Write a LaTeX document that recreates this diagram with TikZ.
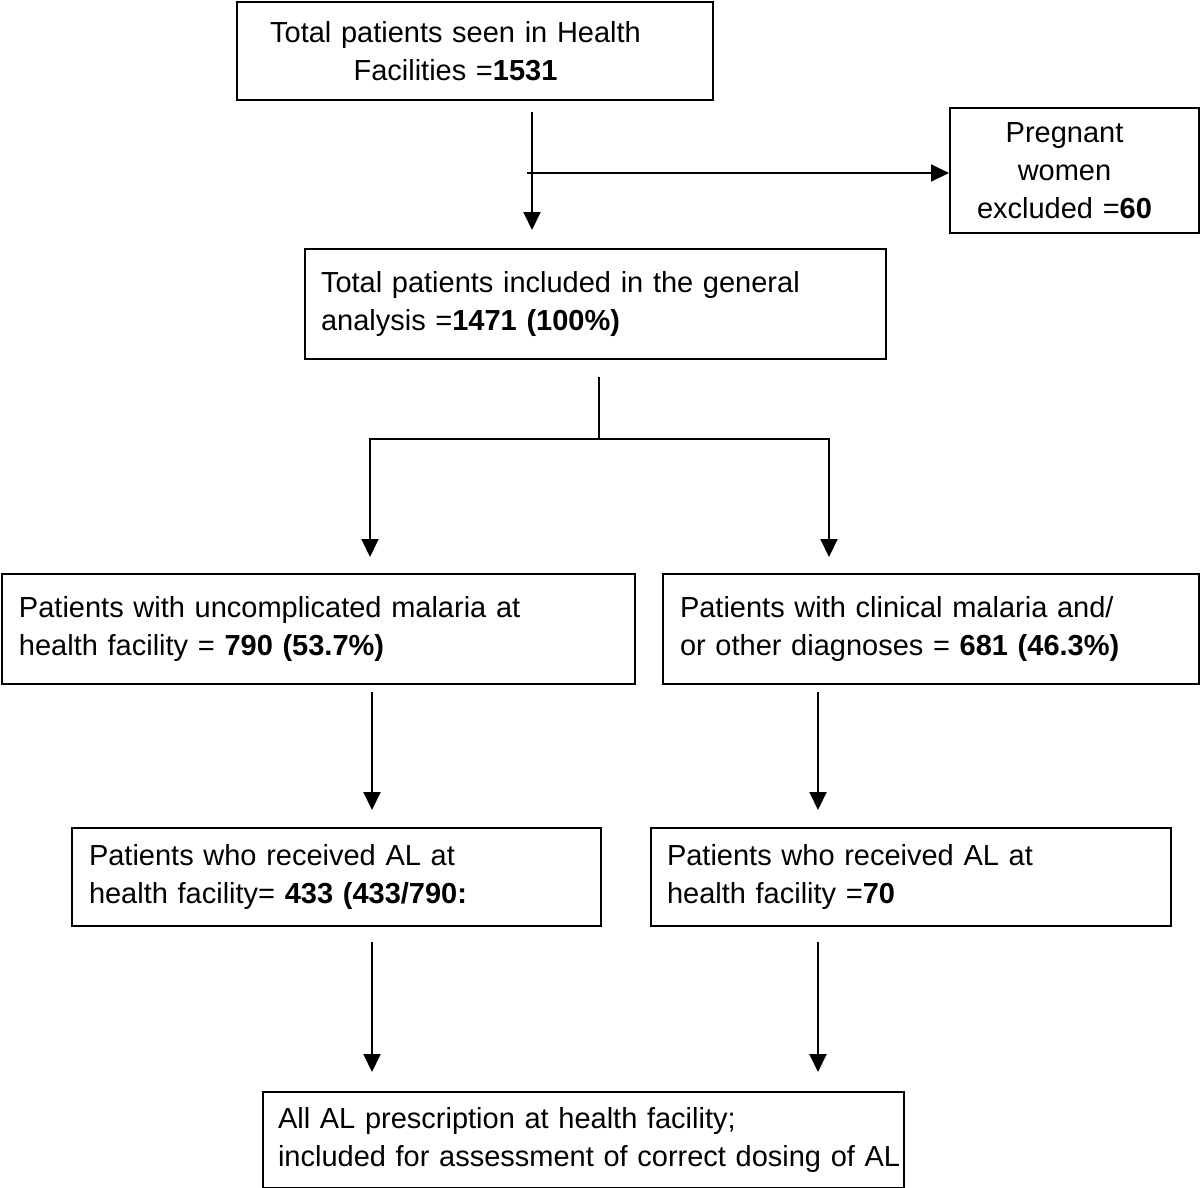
\documentclass[tikz,border=0pt]{standalone}
\usepackage{fontspec}
\setmainfont{Liberation Sans}
\usetikzlibrary{arrows.meta,calc}
\newcommand\padl[1]{\rule{#1}{0pt}}
\begin{document}
\begin{tikzpicture}[x=1pt,y=-1pt,
  box/.style={draw, line width=2pt, anchor=north west, inner sep=0pt,
    minimum height=#1, font=\fontsize{29}{38}\selectfont},
  lbox/.style={box=#1, align=left},
  cbox/.style={box=#1, align=center},
  ln/.style={line width=2pt, line join=miter},
  arr/.style={line width=2pt, line join=miter, -{Triangle[length=18pt,width=17pt]}},
]
\useasboundingbox (0,0) rectangle (1200,1188);

\node[cbox=98pt, text width=476pt] (top) at (236,1)
  {Total patients seen in Health\padl{39pt}\\Facilities =\textbf{1531}\padl{39pt}};
\node[cbox=125pt, text width=249pt] (preg) at (949,107)
  {Pregnant\padl{20pt}\\women\padl{20pt}\\excluded =\textbf{60}\padl{20pt}};
\node[lbox=110pt, text width=581pt] (inc) at (304,248)
  {\padl{16pt}Total patients included in the general\\\padl{16pt}analysis =\textbf{1471 (100\%)}};
\node[lbox=110pt, text width=633pt] (unc) at (1,573)
  {\padl{17pt}Patients with uncomplicated malaria at\\\padl{17pt}health facility = \textbf{790 (53.7\%)}};
\node[lbox=110pt, text width=536pt] (cli) at (662,573)
  {\padl{17pt}Patients with clinical malaria and/\\\padl{17pt}or other diagnoses = \textbf{681 (46.3\%)}};
\node[lbox=98pt, text width=529pt] (ral) at (71,827)
  {\padl{17pt}Patients who received AL at\\\padl{17pt}health facility= \textbf{433 (433/790:}};
\node[lbox=98pt, text width=520pt] (rcl) at (650,827)
  {\padl{16pt}Patients who received AL at\\\padl{16pt}health facility =\textbf{70}};
\node[lbox=96pt, text width=641pt] (all) at (262,1091)
  {\mbox{\padl{15pt}All AL prescription at health facility;}\\\mbox{\padl{15pt}included for assessment of correct dosing of AL}};

\coordinate (c1) at (532,0);
\coordinate (j1) at (527,173);
\coordinate (sp) at (599,439);
\coordinate (bl) at (370,439);
\coordinate (br) at (829,439);
\coordinate (cl) at (372,0);
\coordinate (cr) at (818,0);

\draw[arr, shorten <=11pt, shorten >=18pt] (top.south -| c1) -- (inc.north -| c1);
\draw[arr] (j1) -- (j1 -| preg.west);

\draw[ln, shorten <=17pt] (inc.south -| sp) -- (sp);
\draw[arr, shorten >=16pt] (sp) -- (bl) -- (bl |- unc.north);
\draw[arr, shorten >=16pt] (sp) -- (br) -- (br |- cli.north);

\draw[arr, shorten <=7pt, shorten >=17pt] (unc.south -| cl) -- (ral.north -| cl);
\draw[arr, shorten <=7pt, shorten >=17pt] (cli.south -| cr) -- (rcl.north -| cr);

\draw[arr, shorten <=15pt, shorten >=19pt] (ral.south -| cl) -- (all.north -| cl);
\draw[arr, shorten <=15pt, shorten >=19pt] (rcl.south -| cr) -- (all.north -| cr);
\end{tikzpicture}
\end{document}
